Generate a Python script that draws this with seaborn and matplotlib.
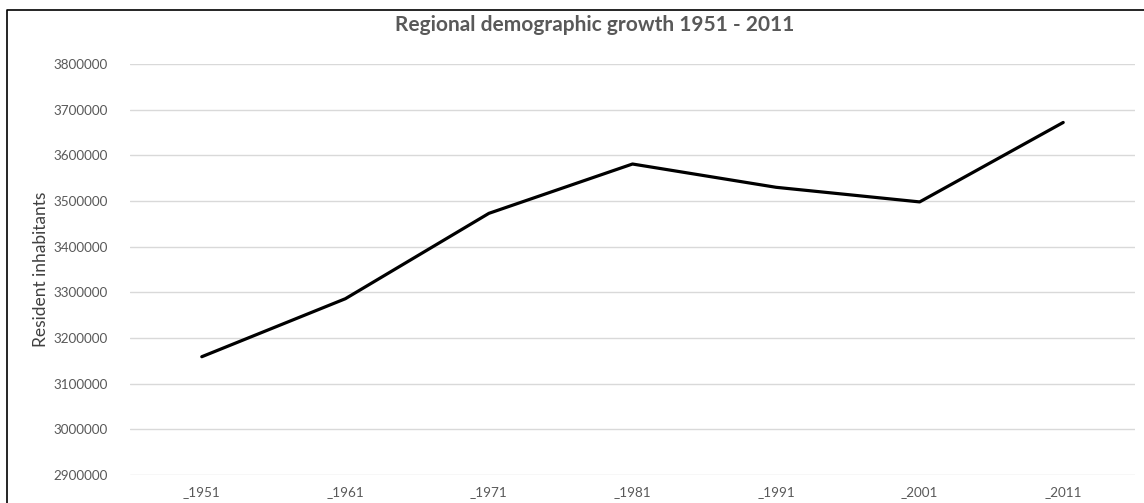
import matplotlib
matplotlib.use("Agg")
import matplotlib.pyplot as plt
import seaborn as sns
import pandas as pd
from matplotlib.lines import Line2D

# census years (shown with a leading underscore as in the source)
years = ["_1951", "_1961", "_1971", "_1981", "_1991", "_2001", "_2011"]
inhabitants = [3159000, 3286000, 3473000, 3581000, 3530000, 3498000, 3672000]
y_ticks = [2900000, 3000000, 3100000, 3200000, 3300000, 3400000, 3500000, 3600000, 3700000, 3800000]

df = pd.DataFrame({"year": years, "inhabitants": inhabitants})

sns.set_theme(style="white")
plt.rcParams['font.family'] = ['Lato', 'DejaVu Sans']

fig = plt.figure(figsize=(11.44, 5.03), dpi=100)
ax = fig.add_axes([130 / 1144, 1 - 475 / 503, (1135 - 130) / 1144, (475 - 64) / 503])

sns.lineplot(data=df, x="year", y="inhabitants", color="black", linewidth=2.3, ax=ax, sort=False)

ax.set_xlim(-0.5, len(years) - 0.5)
ax.set_ylim(y_ticks[0], y_ticks[-1])
ax.set_yticks(y_ticks)
ax.set_yticklabels([str(v) for v in y_ticks])
ax.yaxis.grid(True, color="#d9d9d9", linewidth=1)
ax.xaxis.grid(False)
for s in ax.spines.values():
    s.set_visible(False)
ax.tick_params(axis="both", length=0, labelsize=9.7, labelcolor="#595959")
ax.tick_params(axis="y", pad=16)
ax.tick_params(axis="x", pad=8)

ax.set_xlabel("")
ax.set_ylabel("Resident inhabitants", fontsize=12.5, color="#404040", labelpad=3)

fig.text(595 / 1144, 1 - 25 / 503, "Regional demographic growth 1951 - 2011",
         ha="center", va="center", fontsize=15, fontweight="bold", color="#595959")

# outer frame (top and left edges visible)
fig.add_artist(Line2D([7 / 1144, 7 / 1144, 1.0], [0.0, 1 - 10 / 503, 1 - 10 / 503],
                      transform=fig.transFigure, color="black", linewidth=1.2))

fig.savefig("out.png", dpi=100)
plt.close(fig)
